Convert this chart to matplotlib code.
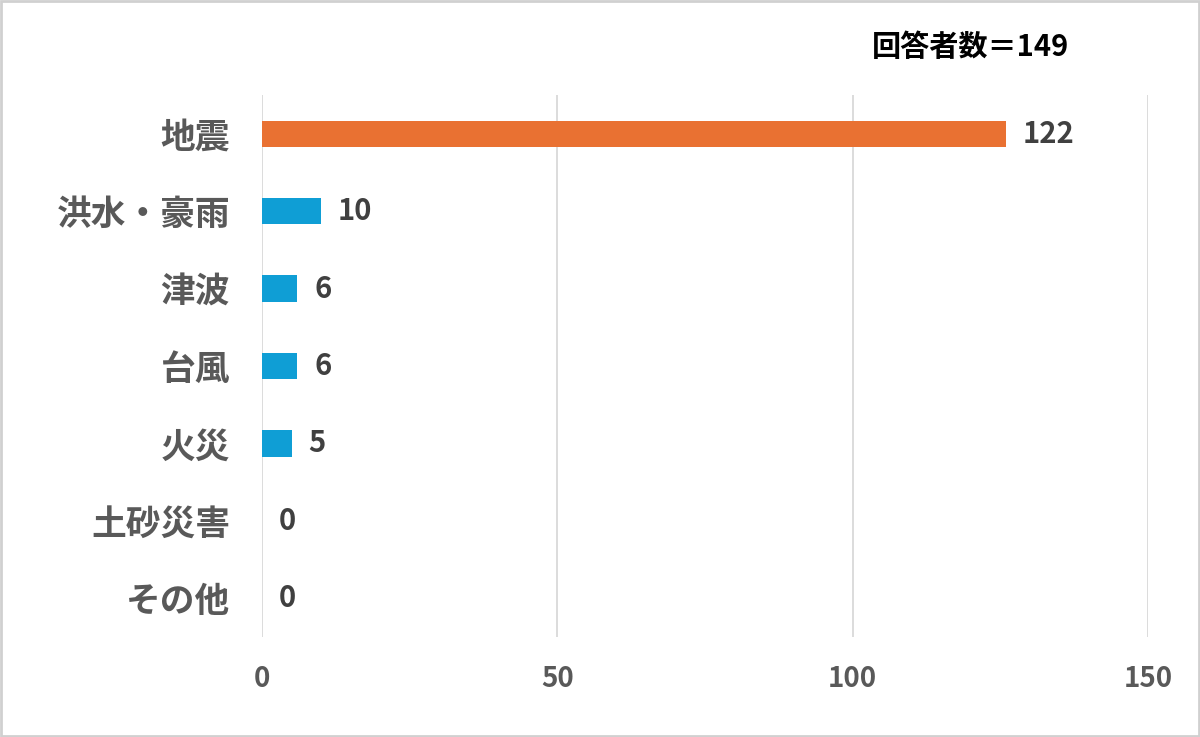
import matplotlib.pyplot as plt
from matplotlib.patches import Rectangle

plt.rcParams['font.family'] = ['Noto Sans CJK JP', 'DejaVu Sans']

# data
categories = ["地震", "洪水・豪雨", "津波", "台風", "火災", "土砂災害", "その他"]
bar_values = [126, 10, 6, 6, 5, 0, 0]   # bar lengths as drawn
value_labels = ["122", "10", "6", "6", "5", "0", "0"]
bar_colors = ["#E97132", "#0F9ED5", "#0F9ED5", "#0F9ED5", "#0F9ED5", "#0F9ED5", "#0F9ED5"]
xticks = [0, 50, 100, 150]
title = "回答者数＝149"

fig = plt.figure(figsize=(12, 7.37), dpi=100)
ax = fig.add_axes([262/1200, 100/737, 886/1200, 542/737])

y = list(range(len(categories)))
ax.barh(y, bar_values, height=0.34, color=bar_colors, zorder=3)
ax.set_ylim(len(categories) - 0.5, -0.5)
ax.set_xlim(0, 150)

for yi, v, lab in zip(y, bar_values, value_labels):
    ax.annotate(lab, (v, yi), xytext=(12, 0), textcoords="offset points",
                va="center", ha="left", fontsize=21, fontweight="bold", color="#404040")

ax.set_yticks(y)
ax.set_yticklabels(categories, fontsize=25, fontweight="bold", color="#595959")
ax.set_xticks(xticks)
ax.set_xticklabels([str(t) for t in xticks], fontsize=20, fontweight="bold", color="#595959")
ax.tick_params(axis="both", length=0)
ax.tick_params(axis="y", pad=23)
ax.tick_params(axis="x", pad=20)
ax.xaxis.grid(True, color="#d9d9d9", linewidth=1.3, zorder=0)
for s in ax.spines.values():
    s.set_visible(False)

fig.text(971/1200, 1 - 47/737, title, ha="center", va="center",
         fontsize=21, fontweight="bold", color="black")

fig.patches.append(Rectangle((0.001, 0.001), 0.998, 0.997, transform=fig.transFigure,
                             fill=False, edgecolor="#d0d0d0", linewidth=2))

fig.savefig("out.png", dpi=100)
